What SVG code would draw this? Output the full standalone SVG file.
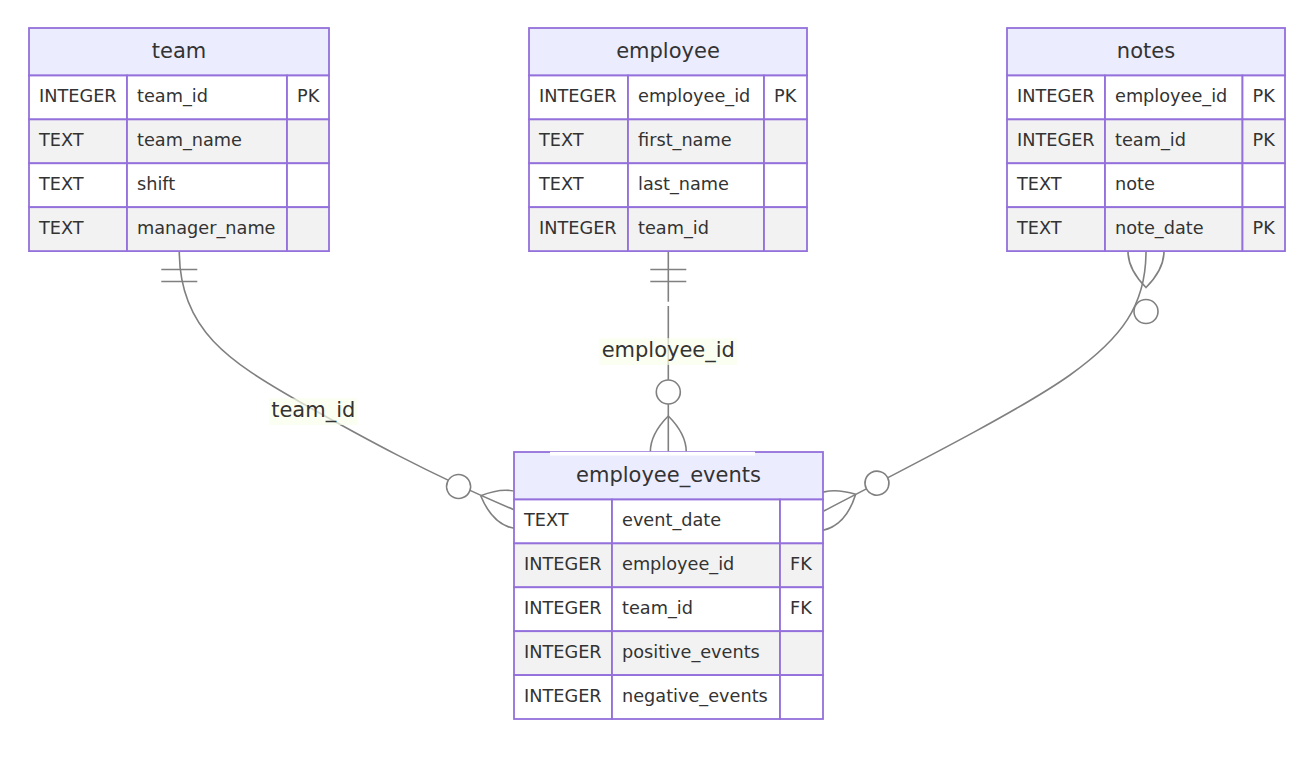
<svg xmlns="http://www.w3.org/2000/svg" width="1306" height="758" viewBox="0 0 1306 758">
<style>
  .bg { fill: #ffffff; }
  .hdr { fill: #ECECFF; stroke: #9370DB; stroke-width: 1.8; }
  .odd { fill: #ffffff; stroke: #9370DB; stroke-width: 1.8; }
  .even { fill: #F2F2F2; stroke: #9370DB; stroke-width: 1.8; }
  .title { font-family: "DejaVu Sans", Verdana, sans-serif; font-size: 21px; fill: #333333; text-anchor: middle; }
  .attr { font-family: "DejaVu Sans", Verdana, sans-serif; font-size: 17.7px; fill: #333333; }
  .rel { fill: none; stroke: #808080; stroke-width: 1.6; }
  .mk { fill: none; stroke: #808080; stroke-width: 0.8; }
  .mkc { fill: #ffffff; stroke: #808080; stroke-width: 0.8; }
  .lblbox { fill: #F9FFEC; opacity: 0.7; }
  .lbl { font-family: "DejaVu Sans", Verdana, sans-serif; font-size: 21px; fill: #333333; text-anchor: middle; }
</style>
<defs>
  <marker id="oneStart" markerUnits="userSpaceOnUse" viewBox="0 0 18 18" markerWidth="36" markerHeight="36" refX="0" refY="9" orient="auto" overflow="visible">
    <path class="mk" d="M9,0 L9,18 M15,0 L15,18"/>
  </marker>
  <marker id="zomEnd" markerUnits="userSpaceOnUse" viewBox="0 0 57 36" markerWidth="114" markerHeight="72" refX="39" refY="18" orient="auto" overflow="visible">
    <circle class="mkc" cx="9" cy="18" r="6"/>
    <path class="mk" d="M21,18 Q39,0 57,18 Q39,36 21,18"/>
  </marker>
  <marker id="zomStart" markerUnits="userSpaceOnUse" viewBox="0 0 57 36" markerWidth="114" markerHeight="72" refX="18" refY="18" orient="auto" overflow="visible">
    <circle class="mkc" cx="48" cy="18" r="6"/>
    <path class="mk" d="M0,18 Q18,0 36,18 Q18,36 0,18"/>
  </marker>
</defs>
<rect class="bg" x="0" y="0" width="1306" height="758"/>

<g id="connectors">
  <path id="e-team-events" class="rel" d="M179.3,251.5 C179.3,330 230,362 300,402 C360,436 430,474.5 513.9,509.7" marker-start="url(#oneStart)" marker-end="url(#zomEnd)"/>
  <path id="e-employee-events" class="rel" d="M668.3,251.5 L668.3,452" marker-start="url(#oneStart)" marker-end="url(#zomEnd)"/>
  <path id="e-notes-events" class="rel" d="M1146,251.5 C1146,305 1122,338 1070,375 C1018,412 894.7,473.9 823.8,511" marker-start="url(#zomStart)" marker-end="url(#zomEnd)"/>
  <rect x="660" y="301.7" width="16" height="4.3" fill="#ffffff"/>
  <g id="lbl-team-id">
    <rect class="lblbox" x="269.3" y="398.3" width="88" height="26.7"/>
    <text class="lbl" x="313.3" y="417.2">team_id</text>
  </g>
  <g id="lbl-employee-id">
    <rect class="lblbox" x="599.3" y="338.2" width="138" height="26.7"/>
    <text class="lbl" x="668.3" y="357">employee_id</text>
  </g>
</g>

<g id="team">
  <rect class="hdr" x="29" y="28" width="300" height="47.5"/>
  <text class="title" x="179" y="57.75">team</text>
  <rect class="odd" x="29" y="75.5" width="98" height="43.9"/>
  <rect class="odd" x="127" y="75.5" width="160" height="43.9"/>
  <rect class="odd" x="287" y="75.5" width="42" height="43.9"/>
  <rect class="even" x="29" y="119.4" width="98" height="43.9"/>
  <rect class="even" x="127" y="119.4" width="160" height="43.9"/>
  <rect class="even" x="287" y="119.4" width="42" height="43.9"/>
  <rect class="odd" x="29" y="163.3" width="98" height="43.9"/>
  <rect class="odd" x="127" y="163.3" width="160" height="43.9"/>
  <rect class="odd" x="287" y="163.3" width="42" height="43.9"/>
  <rect class="even" x="29" y="207.2" width="98" height="43.9"/>
  <rect class="even" x="127" y="207.2" width="160" height="43.9"/>
  <rect class="even" x="287" y="207.2" width="42" height="43.9"/>
  <text class="attr" x="39" y="102.3">INTEGER</text>
  <text class="attr" x="137" y="102.3">team_id</text>
  <text class="attr" x="297" y="102.3">PK</text>
  <text class="attr" x="39" y="146.2">TEXT</text>
  <text class="attr" x="137" y="146.2">team_name</text>
  <text class="attr" x="39" y="190.1">TEXT</text>
  <text class="attr" x="137" y="190.1">shift</text>
  <text class="attr" x="39" y="234">TEXT</text>
  <text class="attr" x="137" y="234">manager_name</text>
</g>

<g id="employee">
  <rect class="hdr" x="529" y="28" width="278" height="47.5"/>
  <text class="title" x="668" y="57.75">employee</text>
  <rect class="odd" x="529" y="75.5" width="99" height="43.9"/>
  <rect class="odd" x="628" y="75.5" width="136" height="43.9"/>
  <rect class="odd" x="764" y="75.5" width="43" height="43.9"/>
  <rect class="even" x="529" y="119.4" width="99" height="43.9"/>
  <rect class="even" x="628" y="119.4" width="136" height="43.9"/>
  <rect class="even" x="764" y="119.4" width="43" height="43.9"/>
  <rect class="odd" x="529" y="163.3" width="99" height="43.9"/>
  <rect class="odd" x="628" y="163.3" width="136" height="43.9"/>
  <rect class="odd" x="764" y="163.3" width="43" height="43.9"/>
  <rect class="even" x="529" y="207.2" width="99" height="43.9"/>
  <rect class="even" x="628" y="207.2" width="136" height="43.9"/>
  <rect class="even" x="764" y="207.2" width="43" height="43.9"/>
  <text class="attr" x="539" y="102.3">INTEGER</text>
  <text class="attr" x="638" y="102.3">employee_id</text>
  <text class="attr" x="774" y="102.3">PK</text>
  <text class="attr" x="539" y="146.2">TEXT</text>
  <text class="attr" x="638" y="146.2">first_name</text>
  <text class="attr" x="539" y="190.1">TEXT</text>
  <text class="attr" x="638" y="190.1">last_name</text>
  <text class="attr" x="539" y="234">INTEGER</text>
  <text class="attr" x="638" y="234">team_id</text>
</g>

<g id="notes">
  <rect class="hdr" x="1007" y="28" width="278" height="47.5"/>
  <text class="title" x="1146" y="57.75">notes</text>
  <rect class="odd" x="1007" y="75.5" width="98" height="43.9"/>
  <rect class="odd" x="1105" y="75.5" width="137.5" height="43.9"/>
  <rect class="odd" x="1242.5" y="75.5" width="42.5" height="43.9"/>
  <rect class="even" x="1007" y="119.4" width="98" height="43.9"/>
  <rect class="even" x="1105" y="119.4" width="137.5" height="43.9"/>
  <rect class="even" x="1242.5" y="119.4" width="42.5" height="43.9"/>
  <rect class="odd" x="1007" y="163.3" width="98" height="43.9"/>
  <rect class="odd" x="1105" y="163.3" width="137.5" height="43.9"/>
  <rect class="odd" x="1242.5" y="163.3" width="42.5" height="43.9"/>
  <rect class="even" x="1007" y="207.2" width="98" height="43.9"/>
  <rect class="even" x="1105" y="207.2" width="137.5" height="43.9"/>
  <rect class="even" x="1242.5" y="207.2" width="42.5" height="43.9"/>
  <text class="attr" x="1017" y="102.3">INTEGER</text>
  <text class="attr" x="1115" y="102.3">employee_id</text>
  <text class="attr" x="1252.5" y="102.3">PK</text>
  <text class="attr" x="1017" y="146.2">INTEGER</text>
  <text class="attr" x="1115" y="146.2">team_id</text>
  <text class="attr" x="1252.5" y="146.2">PK</text>
  <text class="attr" x="1017" y="190.1">TEXT</text>
  <text class="attr" x="1115" y="190.1">note</text>
  <text class="attr" x="1017" y="234">TEXT</text>
  <text class="attr" x="1115" y="234">note_date</text>
  <text class="attr" x="1252.5" y="234">PK</text>
</g>

<g id="employee_events">
  <rect class="hdr" x="514" y="452" width="309" height="47.5"/>
  <text class="title" x="668.5" y="481.75">employee_events</text>
  <rect class="odd" x="514" y="499.5" width="98" height="43.9"/>
  <rect class="odd" x="612" y="499.5" width="168" height="43.9"/>
  <rect class="odd" x="780" y="499.5" width="43" height="43.9"/>
  <rect class="even" x="514" y="543.4" width="98" height="43.9"/>
  <rect class="even" x="612" y="543.4" width="168" height="43.9"/>
  <rect class="even" x="780" y="543.4" width="43" height="43.9"/>
  <rect class="odd" x="514" y="587.3" width="98" height="43.9"/>
  <rect class="odd" x="612" y="587.3" width="168" height="43.9"/>
  <rect class="odd" x="780" y="587.3" width="43" height="43.9"/>
  <rect class="even" x="514" y="631.2" width="98" height="43.9"/>
  <rect class="even" x="612" y="631.2" width="168" height="43.9"/>
  <rect class="even" x="780" y="631.2" width="43" height="43.9"/>
  <rect class="odd" x="514" y="675.1" width="98" height="43.9"/>
  <rect class="odd" x="612" y="675.1" width="168" height="43.9"/>
  <rect class="odd" x="780" y="675.1" width="43" height="43.9"/>
  <text class="attr" x="524" y="526.3">TEXT</text>
  <text class="attr" x="622" y="526.3">event_date</text>
  <text class="attr" x="524" y="570.2">INTEGER</text>
  <text class="attr" x="622" y="570.2">employee_id</text>
  <text class="attr" x="790" y="570.2">FK</text>
  <text class="attr" x="524" y="614.1">INTEGER</text>
  <text class="attr" x="622" y="614.1">team_id</text>
  <text class="attr" x="790" y="614.1">FK</text>
  <text class="attr" x="524" y="658">INTEGER</text>
  <text class="attr" x="622" y="658">positive_events</text>
  <text class="attr" x="524" y="701.9">INTEGER</text>
  <text class="attr" x="622" y="701.9">negative_events</text>
  <rect x="550" y="451.8" width="205" height="3.7" fill="#ffffff"/>
</g>
</svg>
